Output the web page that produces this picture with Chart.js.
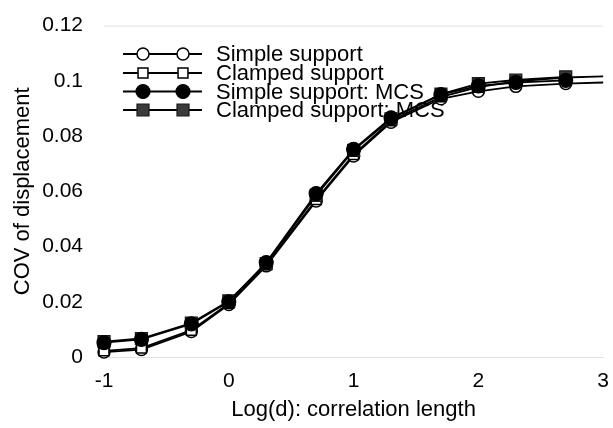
<!DOCTYPE html>
<html>
<head>
<meta charset="utf-8">
<script src="https://cdn.jsdelivr.net/npm/chart.js@4"></script>
<style>
  html, body { margin: 0; padding: 0; background: #fff; }
  #wrap { width: 613px; height: 428px; }
</style>
</head>
<body>
<div id="wrap"><canvas id="c" width="613" height="428"></canvas></div>
<script>
// log10 of the correlation length d
const logD = [-1, -0.7, -0.3, 0, 0.3, 0.7, 1, 1.3, 1.7, 2, 2.3, 2.7, 3];
const logDMCS = [-1, -0.7, -0.3, 0, 0.3, 0.7, 1, 1.3, 1.7, 2, 2.3, 2.7];

// COV of displacement
const simpleSupport   = [0.0018, 0.0027, 0.0092, 0.0190, 0.0330, 0.0565, 0.0728, 0.0850, 0.0935, 0.0962, 0.0980, 0.0990, 0.0994];
const clampedSupport  = [0.0022, 0.0032, 0.0097, 0.0194, 0.0334, 0.0570, 0.0733, 0.0855, 0.0942, 0.0977, 0.0998, 0.1012, 0.1016];
const simpleMCS       = [0.0052, 0.0064, 0.0120, 0.0200, 0.0342, 0.0592, 0.0752, 0.0866, 0.0950, 0.0982, 0.0994, 0.1002];
const clampedMCS      = [0.0056, 0.0067, 0.0123, 0.0203, 0.0338, 0.0585, 0.0748, 0.0862, 0.0952, 0.0990, 0.1003, 0.1014];

const seriesNames = ['Simple support', 'Clamped support', 'Simple support: MCS', 'Clamped support: MCS'];

const xTickValues = [-1, 0, 1, 2, 3];
const xTickLabels = ['-1', '0', '1', '2', '3'];
const yTickValues = [0, 0.02, 0.04, 0.06, 0.08, 0.1, 0.12];
const yTickLabels = ['0', '0.02', '0.04', '0.06', '0.08', '0.1', '0.12'];

const FONT = '"Liberation Sans", Arial, sans-serif';

function pts(xs, ys) { return ys.map((v, i) => ({ x: xs[i], y: v })); }

// marker styles per series
const markers = [
  { pointStyle: 'circle', radius: 6,   fill: '#ffffff', stroke: '#000', bw: 1.5 },
  { pointStyle: 'rect',   radius: 7,   fill: '#ffffff', stroke: '#000', bw: 1.5 },
  { pointStyle: 'circle', radius: 7,   fill: '#000000', stroke: '#000', bw: 1.2 },
  { pointStyle: 'rect',   radius: 8.5, fill: '#3a3a3a', stroke: '#1a1a1a', bw: 1.2 }
];

function ds(i, xs, ys, order) {
  const m = markers[i];
  // the analytical curves run on to log(d) = 3 without a marker there
  const radii = ys.map((v, k) => (xs[k] === 3 ? 0 : m.radius));
  return {
    label: seriesNames[i],
    data: pts(xs, ys),
    borderColor: '#000',
    borderWidth: 1.8,
    pointStyle: m.pointStyle,
    pointRadius: radii,
    pointBackgroundColor: m.fill,
    pointBorderColor: m.stroke,
    pointBorderWidth: m.bw,
    tension: 0,
    fill: false,
    clip: false,
    order: order
  };
}

// faint frame line along the top of the plot
const topLine = {
  id: 'topLine',
  beforeDatasetsDraw(chart) {
    const { ctx, chartArea: a } = chart;
    ctx.save();
    ctx.strokeStyle = '#e2e2e2';
    ctx.lineWidth = 1;
    ctx.beginPath();
    ctx.moveTo(a.left, a.top + 0.5);
    ctx.lineTo(a.right, a.top + 0.5);
    ctx.stroke();
    ctx.restore();
  }
};

// legend: a short line with two markers, then the series name
const lineLegend = {
  id: 'lineLegend',
  beforeDatasetsDraw(chart) {
    const { ctx } = chart;
    const rows = [54, 73, 91.5, 110];
    ctx.save();
    for (let i = 0; i < 4; i++) {
      const y = rows[i];
      const m = markers[i];
      ctx.strokeStyle = '#000';
      ctx.lineWidth = 1.8;
      ctx.beginPath();
      ctx.moveTo(123, y);
      ctx.lineTo(202, y);
      ctx.stroke();
      [143, 183].forEach(x => {
        ctx.fillStyle = m.fill;
        ctx.strokeStyle = m.stroke;
        ctx.lineWidth = m.bw;
        Chart.helpers.drawPoint(ctx, { pointStyle: m.pointStyle, radius: m.radius, rotation: 0, borderWidth: m.bw }, x, y);
      });
      ctx.fillStyle = '#000';
      ctx.font = '22px ' + FONT;
      ctx.textBaseline = 'middle';
      ctx.textAlign = 'left';
      ctx.fillText(seriesNames[i], 216, y + 1);
    }
    ctx.restore();
  }
};

new Chart(document.getElementById('c'), {
  type: 'line',
  data: {
    datasets: [
      ds(0, logD, simpleSupport, 2),
      ds(1, logD, clampedSupport, 1),
      ds(2, logDMCS, simpleMCS, 0),
      ds(3, logDMCS, clampedMCS, 0)
    ]
  },
  options: {
    responsive: false,
    animation: false,
    devicePixelRatio: 1,
    layout: { padding: { top: 21, right: 9, left: 0, bottom: 0 } },
    plugins: {
      legend: { display: false },
      tooltip: { enabled: false }
    },
    scales: {
      x: {
        type: 'linear',
        min: -1,
        max: 3,
        afterBuildTicks(scale) { scale.ticks = xTickValues.map(v => ({ value: v })); },
        afterFit(scale) { scale.height = 71; },
        grid: { display: false },
        border: { display: true, color: '#e2e2e2', width: 1 },
        ticks: {
          color: '#000',
          font: { family: FONT, size: 21 },
          padding: 4,
          maxRotation: 0,
          callback: (v) => xTickLabels[xTickValues.indexOf(v)]
        },
        title: {
          display: true,
          text: 'Log(d): correlation length',
          color: '#000',
          font: { family: FONT, size: 22 },
          padding: { top: 2, bottom: 5 }
        }
      },
      y: {
        type: 'linear',
        min: 0,
        max: 0.12,
        afterBuildTicks(scale) { scale.ticks = yTickValues.map(v => ({ value: v })); },
        afterFit(scale) { scale.width = 104; },
        grid: { display: false },
        border: { display: false },
        ticks: {
          color: '#000',
          font: { family: FONT, size: 21 },
          padding: 13,
          callback: (v) => yTickLabels[yTickValues.findIndex(t => Math.abs(t - v) < 1e-9)]
        },
        title: {
          display: true,
          text: 'COV of displacement',
          color: '#000',
          font: { family: FONT, size: 22 },
          padding: { top: 10, bottom: 0 }
        }
      }
    }
  },
  plugins: [topLine, lineLegend]
});
</script>
</body>
</html>
